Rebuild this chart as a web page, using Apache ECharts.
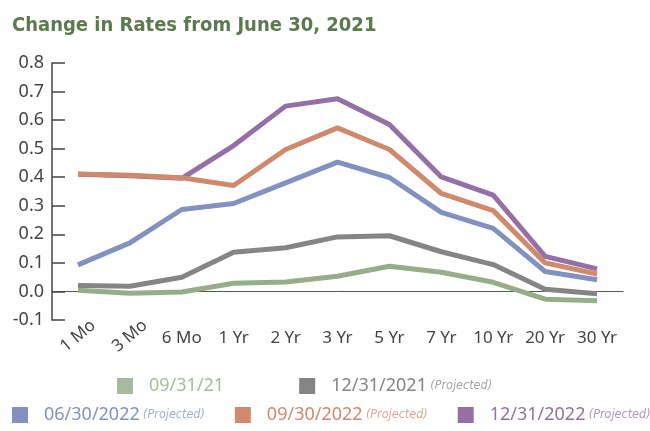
<!DOCTYPE html>
<html lang="en">
<head>
    <meta charset="UTF-8">
    <title>Change in Rates</title>
    <script src="https://cdn.jsdelivr.net/npm/echarts@6/dist/echarts.min.js"></script>
    <style>
        html, body { margin: 0; padding: 0; background: #fff; }
        #main { width: 650px; height: 431px; }
    </style>
</head>
<body>
    <div id="main"></div>
    <script>
        // tenors on the x axis
        var tenors = ['1 Mo', '3 Mo', '6 Mo', '1 Yr', '2 Yr', '3 Yr', '5 Yr', '7 Yr', '10 Yr', '20 Yr', '30 Yr'];
        // change vs 06/30/2021
        var sep21 = [0.004, -0.006, -0.002, 0.029, 0.033, 0.053, 0.088, 0.067, 0.032, -0.027, -0.033];
        var dec21 = [0.021, 0.018, 0.050, 0.137, 0.153, 0.191, 0.195, 0.139, 0.094, 0.008, -0.008];
        var jun22 = [0.093, 0.170, 0.287, 0.308, 0.380, 0.453, 0.399, 0.277, 0.221, 0.070, 0.041];
        var sep22 = [0.411, 0.407, 0.398, 0.371, 0.497, 0.573, 0.497, 0.343, 0.283, 0.100, 0.061];
        var dec22 = [0.410, 0.405, 0.396, 0.511, 0.649, 0.675, 0.585, 0.401, 0.337, 0.123, 0.079];
        var seriesNames = ['09/31/21', '12/31/2021', '06/30/2022', '09/30/2022', '12/31/2022'];
        var projected = [false, true, true, true, true];
        var lineColors = ['#95ae89', '#858585', '#8391c0', '#cf8a6e', '#9470a4'];
        var legendColors = ['#a9b99f', '#858585', '#8391c0', '#cf8a6e', '#9470a4'];

        var condensed = '"DejaVu Sans Condensed", "Liberation Sans Narrow", Roboto, sans-serif';

        var myChart = echarts.init(document.getElementById('main'));

        function legendItem(i) {
            return {
                name: seriesNames[i],
                icon: 'rect',
                itemStyle: { color: legendColors[i] },
                textStyle: {
                    color: legendColors[i],
                    rich: {
                        d: { color: legendColors[i], fontSize: 18, fontFamily: 'Noto Sans', padding: [0, 0, 0, 11] },
                        p: { color: legendColors[i], opacity: 0.75, fontSize: 12.5, fontStyle: 'italic',
                             fontFamily: condensed }
                    }
                }
            };
        }
        function fmt(name) {
            var i = seriesNames.indexOf(name);
            return projected[i] ? '{d|' + name + '} {p|(Projected)}' : '{d|' + name + '}';
        }

        var allData = [sep21, dec21, jun22, sep22, dec22];
        var series = [];
        // purple first so orange sits on top of it at the short end
        for (var k = 4; k >= 0; k--) {
            series.push({
                name: seriesNames[k],
                type: 'line',
                data: allData[k],
                symbol: 'none',
                lineStyle: { width: 5, color: lineColors[k] },
                itemStyle: { color: lineColors[k] }
            });
        }

        var option = {
            animation: false,
            title: {
                text: 'Change in Rates from June 30, 2021',
                left: 7,
                top: 11,
                textStyle: {
                    color: '#5b7b4f',
                    fontSize: 20,
                    fontWeight: 'bold',
                    fontFamily: condensed
                }
            },
            legend: [{
                left: 117,
                top: 377,
                width: 620,
                padding: 0,
                itemWidth: 16,
                itemHeight: 16,
                itemGap: 75,
                formatter: fmt,
                data: [legendItem(0), legendItem(1)]
            }, {
                left: 12,
                top: 406,
                width: 640,
                padding: 0,
                itemWidth: 16,
                itemHeight: 16,
                itemGap: 30,
                formatter: fmt,
                data: [legendItem(2), legendItem(3), legendItem(4)]
            }],
            grid: { left: 52, right: 27, top: 63, bottom: 111 },
            xAxis: [{
                type: 'category',
                data: tenors,
                axisLine: { onZero: true, lineStyle: { color: '#555', width: 1 } },
                axisTick: { inside: true, length: 5, lineStyle: { color: '#555' } },
                axisLabel: {
                    interval: function (idx) { return idx >= 2; },
                    margin: 10,
                    fontSize: 17,
                    color: '#444',
                    fontFamily: 'Noto Sans'
                }
            }, {
                // the two short tenors are drawn slanted in the original
                type: 'category',
                data: tenors,
                position: 'bottom',
                axisLine: { show: false },
                axisTick: { show: false },
                axisLabel: {
                    interval: function (idx) { return idx < 2; },
                    rotate: 40,
                    align: 'center',
                    margin: 16,
                    fontSize: 17,
                    color: '#444',
                    fontFamily: 'Noto Sans'
                }
            }],
            yAxis: {
                type: 'value',
                min: -0.1,
                max: 0.8,
                interval: 0.1,
                axisLine: { show: true, lineStyle: { color: '#444', width: 1.5 } },
                axisTick: { show: true, inside: true, length: 13, lineStyle: { color: '#444', width: 1.5 } },
                splitLine: { show: false },
                axisLabel: {
                    formatter: function (v) { return v.toFixed(1); },
                    fontSize: 18,
                    color: '#444',
                    margin: 8,
                    fontFamily: 'Noto Sans'
                }
            },
            series: series
        };

        myChart.setOption(option);
        window.onresize = myChart.resize;
    </script>
</body>
</html>
